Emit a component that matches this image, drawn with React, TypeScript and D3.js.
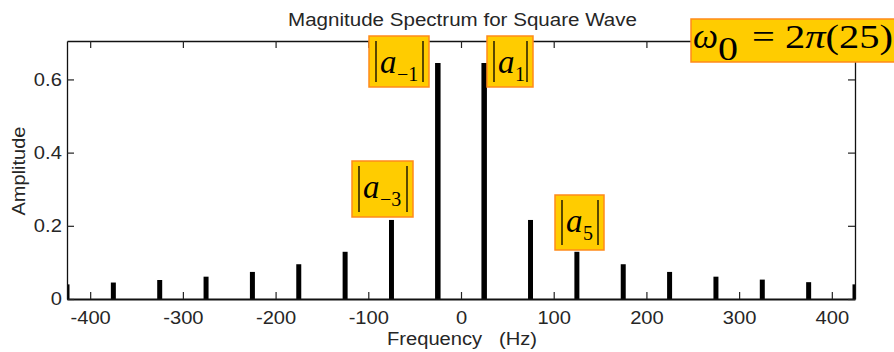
import { useEffect, useRef } from 'react';
import * as d3 from 'd3';

// odd harmonics of the 25 Hz square wave
const freqs = [-425, -375, -325, -275, -225, -175, -125, -75, -25, 25, 75, 125, 175, 225, 275, 325, 375, 425];
const amplitudes = [0.04, 0.045, 0.052, 0.061, 0.074, 0.095, 0.129, 0.216, 0.645, 0.645, 0.216, 0.129, 0.095, 0.074, 0.061, 0.053, 0.046, 0.04];
const xTicks = [-400, -300, -200, -100, 0, 100, 200, 300, 400];
const yTicks = [0, 0.2, 0.4, 0.6];

// labelled coefficients: subscript text and box placement
const boxes = [
  { sub: '\u22121', x: 369, y: 36, w: 60, h: 51 },
  { sub: '1', x: 487, y: 36, w: 46, h: 51 },
  { sub: '\u22123', x: 352, y: 161, w: 61, h: 56 },
  { sub: '5', x: 555, y: 195, w: 49, h: 55 },
];

const width = 894;
const height = 352;
const margin = { top: 41, right: 39, bottom: 53, left: 67 };
const sansFont = '"Liberation Sans", Arial, Helvetica, sans-serif';
const serifFont = '"Liberation Serif", "Times New Roman", serif';
const textColor = '#262626';
const boxFill = '#ffcc00';
const boxStroke = '#ff8a1a';

export default function App() {
  const ref = useRef<SVGSVGElement>(null);

  useEffect(() => {
    if (!ref.current) return;
    const svg = d3.select(ref.current);
    svg.selectAll('*').remove();

    const x0 = margin.left;
    const x1 = width - margin.right;
    const y0 = height - margin.bottom;
    const y1 = margin.top;

    const xScale = d3.scaleLinear().domain([-425, 425]).range([x0, x1]);
    const yScale = d3.scaleLinear().domain([0, 0.705]).range([y0, y1]);

    svg
      .append('defs')
      .append('clipPath')
      .attr('id', 'plot-clip')
      .append('rect')
      .attr('x', x0)
      .attr('y', y1)
      .attr('width', x1 - x0)
      .attr('height', y0 - y1);

    // stems
    svg
      .append('g')
      .attr('clip-path', 'url(#plot-clip)')
      .selectAll('line')
      .data(freqs)
      .join('line')
      .attr('x1', (d) => xScale(d))
      .attr('x2', (d) => xScale(d))
      .attr('y1', yScale(0))
      .attr('y2', (_, i) => yScale(amplitudes[i]))
      .attr('stroke', '#000')
      .attr('stroke-width', (d) => (Math.abs(d) === 25 ? 5.5 : 5));

    const styleAxis = (g: d3.Selection<SVGGElement, unknown, null, undefined>, domainWidth: number) => {
      g.attr('font-family', sansFont).attr('font-size', 17.5).attr('fill', textColor);
      g.select('.domain').attr('stroke', '#111').attr('stroke-width', domainWidth);
      g.selectAll('.tick line').attr('stroke', '#222').attr('stroke-width', 1.2);
      g.selectAll('.tick text').attr('fill', textColor).attr('transform', 'scale(1.15,1)');
    };

    svg
      .append('g')
      .attr('transform', `translate(0,${y0})`)
      .call(
        d3
          .axisBottom(xScale)
          .tickValues(xTicks)
          .tickSizeInner(-7)
          .tickSizeOuter(0)
          .tickPadding(13)
          .tickFormat((d) => String(d))
      )
      .call((g) => styleAxis(g, 1.8));

    svg
      .append('g')
      .attr('transform', `translate(0,${y1})`)
      .call(d3.axisTop(xScale).tickValues(xTicks).tickSizeInner(-7).tickSizeOuter(0).tickFormat(() => ''))
      .call((g) => styleAxis(g, 1.3));

    svg
      .append('g')
      .attr('transform', `translate(${x0},0)`)
      .call(
        d3
          .axisLeft(yScale)
          .tickValues(yTicks)
          .tickSizeInner(-7)
          .tickSizeOuter(0)
          .tickPadding(4.5)
          .tickFormat((d) => String(d))
      )
      .call((g) => styleAxis(g, 1.3));

    svg
      .append('g')
      .attr('transform', `translate(${x1},0)`)
      .call(d3.axisRight(yScale).tickValues(yTicks).tickSizeInner(-7).tickSizeOuter(0).tickFormat(() => ''))
      .call((g) => styleAxis(g, 1.3));

    // titles
    svg
      .append('text')
      .attr('x', 462.5)
      .attr('y', 26)
      .attr('text-anchor', 'middle')
      .attr('font-family', sansFont)
      .attr('font-size', 17.5)
      .attr('fill', textColor)
      .attr('textLength', 349)
      .attr('lengthAdjust', 'spacingAndGlyphs')
      .text('Magnitude Spectrum for Square Wave');

    svg
      .append('text')
      .attr('x', 462)
      .attr('y', 345)
      .attr('text-anchor', 'middle')
      .attr('font-family', sansFont)
      .attr('font-size', 17.5)
      .attr('fill', textColor)
      .style('white-space', 'pre')
      .attr('textLength', 150)
      .attr('lengthAdjust', 'spacingAndGlyphs')
      .text('Frequency   (Hz)');

    svg
      .append('text')
      .attr('transform', 'translate(25,171) rotate(-90)')
      .attr('text-anchor', 'middle')
      .attr('font-family', sansFont)
      .attr('font-size', 17.5)
      .attr('fill', textColor)
      .attr('textLength', 89)
      .attr('lengthAdjust', 'spacingAndGlyphs')
      .text('Amplitude');

    // |a_k| labels
    const box = svg
      .append('g')
      .selectAll('g')
      .data(boxes)
      .join('g')
      .attr('transform', (d) => `translate(${d.x},${d.y})`);

    box
      .append('rect')
      .attr('width', (d) => d.w)
      .attr('height', (d) => d.h)
      .attr('fill', boxFill)
      .attr('stroke', boxStroke)
      .attr('stroke-width', 1.5);

    box
      .append('line')
      .attr('x1', 7)
      .attr('x2', 7)
      .attr('y1', 5)
      .attr('y2', (d) => d.h - 5)
      .attr('stroke', '#000')
      .attr('stroke-width', 1.3);

    box
      .append('line')
      .attr('x1', (d) => d.w - 6)
      .attr('x2', (d) => d.w - 6)
      .attr('y1', 5)
      .attr('y2', (d) => d.h - 5)
      .attr('stroke', '#000')
      .attr('stroke-width', 1.3);

    box
      .append('text')
      .attr('x', 11)
      .attr('y', 37)
      .attr('font-family', serifFont)
      .attr('font-style', 'italic')
      .attr('font-size', 33)
      .attr('fill', '#000')
      .text('a');

    box
      .append('text')
      .attr('x', 28)
      .attr('y', 45)
      .attr('font-family', serifFont)
      .attr('font-size', 20)
      .attr('fill', '#000')
      .text((d) => d.sub);

    // fundamental frequency note
    const w0 = svg.append('g');
    w0.append('rect')
      .attr('x', 691)
      .attr('y', 19)
      .attr('width', 220)
      .attr('height', 43)
      .attr('fill', boxFill)
      .attr('stroke', boxStroke)
      .attr('stroke-width', 1.5);
    w0.append('text')
      .attr('x', 693)
      .attr('y', 48)
      .attr('font-family', serifFont)
      .attr('font-style', 'italic')
      .attr('font-size', 36)
      .attr('textLength', 25)
      .attr('lengthAdjust', 'spacingAndGlyphs')
      .text('\u03c9');
    w0.append('text')
      .attr('x', 718)
      .attr('y', 60)
      .attr('font-family', serifFont)
      .attr('font-size', 34)
      .attr('textLength', 20)
      .attr('lengthAdjust', 'spacingAndGlyphs')
      .text('0');
    const eq = w0
      .append('text')
      .attr('x', 752)
      .attr('y', 48)
      .attr('font-family', serifFont)
      .attr('font-size', 33)
      .attr('textLength', 141)
      .attr('lengthAdjust', 'spacingAndGlyphs')
      .style('white-space', 'pre');
    eq.append('tspan').text('= 2');
    eq.append('tspan').attr('font-style', 'italic').text('\u03c0');
    eq.append('tspan').text('(25)');
  }, []);

  return (
    <svg
      ref={ref}
      width={width}
      height={height}
      style={{ position: 'absolute', left: 0, top: 0, display: 'block', background: '#fff' }}
    />
  );
}
